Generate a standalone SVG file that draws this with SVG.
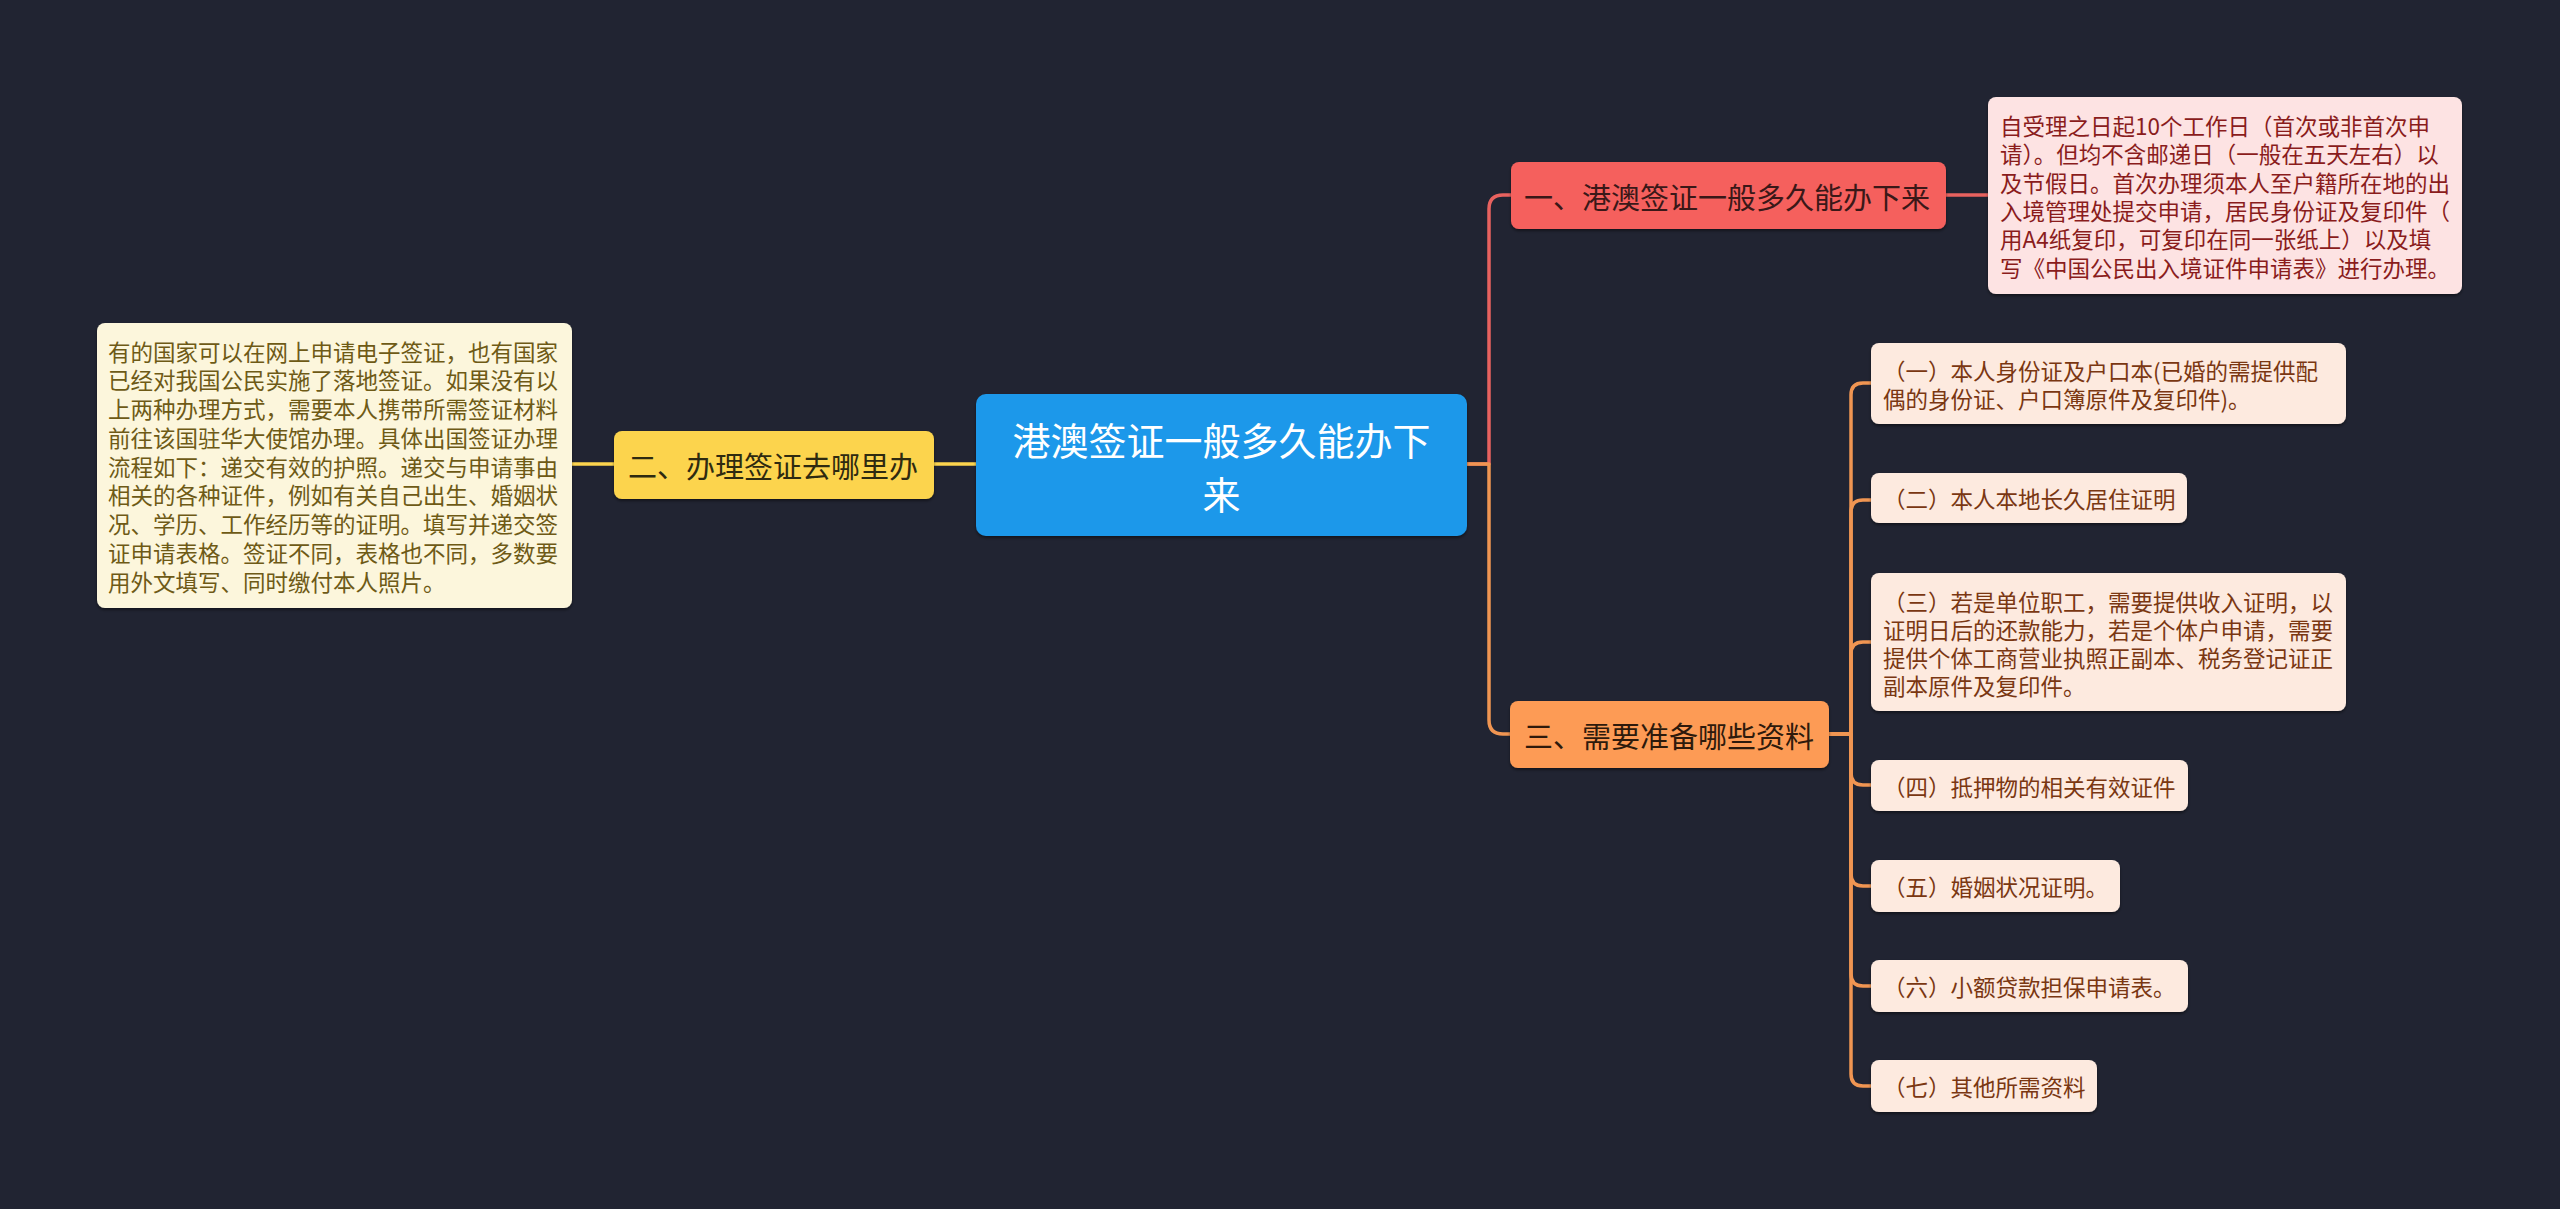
<svg xmlns="http://www.w3.org/2000/svg" width="2560" height="1209" viewBox="0 0 2560 1209">
<defs>
<style>
text{font-family:"Noto Sans CJK SC","Microsoft YaHei",sans-serif;}
.l1{font-size:29px;dominant-baseline:central;}
.leaf{font-size:22.5px;dominant-baseline:central;}
.conn{fill:none;stroke-width:3.5;stroke-linecap:round;stroke-linejoin:round;}
.red{stroke:#e8625f;}
.yel{stroke:#fcd44e;}
.org{stroke:#f09552;}
</style>
<filter id="sh" x="-5%" y="-10%" width="110%" height="130%">
<feDropShadow dx="0" dy="2" stdDeviation="1.5" flood-color="#000" flood-opacity="0.45"/>
</filter>
</defs>
<rect x="0" y="0" width="2560" height="1209" fill="#212432"/>

<g id="connectors">
<path class="conn red" d="M1467 464 H1489 V209 Q1489 195 1503 195 H1511"/>
<path class="conn org" d="M1467 464 H1489 V720 Q1489 734 1503 734 H1510"/>
<path class="conn red" d="M1946 195 H1988"/>
<path class="conn yel" d="M976 464 H934"/>
<path class="conn yel" d="M614 464 H572"/>
<path class="conn org" d="M1829 734 H1851 V395 Q1851 383 1863 383 H1872"/>
<path class="conn org" d="M1829 734 H1851 V512 Q1851 500 1863 500 H1872"/>
<path class="conn org" d="M1829 734 H1851 V654 Q1851 642 1863 642 H1872"/>
<path class="conn org" d="M1829 734 H1851 V773 Q1851 785 1863 785 H1872"/>
<path class="conn org" d="M1829 734 H1851 V874 Q1851 886 1863 886 H1872"/>
<path class="conn org" d="M1829 734 H1851 V974 Q1851 986 1863 986 H1872"/>
<path class="conn org" d="M1829 734 H1851 V1074 Q1851 1086 1863 1086 H1872"/>
</g>

<g id="center">
<rect x="976" y="394" width="491" height="142" rx="10" fill="#1d98ea" filter="url(#sh)"/>
<text x="1221.5" y="438" font-size="38" fill="#ffffff" text-anchor="middle" dominant-baseline="central">港澳签证一般多久能办下</text>
<text x="1221.5" y="492" font-size="38" fill="#ffffff" text-anchor="middle" dominant-baseline="central">来</text>
</g>

<g id="node1">
<rect x="1511" y="162" width="435" height="67" rx="8" fill="#f5605d" filter="url(#sh)"/>
<text class="l1" x="1524" y="195.5" fill="#3a1818">一、港澳签证一般多久能办下来</text>
</g>

<g id="node1-detail">
<rect x="1988" y="97" width="474" height="197" rx="8" fill="#fde3e3" filter="url(#sh)"/>
<text class="leaf" fill="#8a1c1c">
<tspan x="2000" y="125">自受理之日起10个工作日（首次或非首次申</tspan>
<tspan x="2000" y="153.3">请）。但均不含邮递日（一般在五天左右）以</tspan>
<tspan x="2000" y="181.6">及节假日。首次办理须本人至户籍所在地的出</tspan>
<tspan x="2000" y="209.9">入境管理处提交申请，居民身份证及复印件（</tspan>
<tspan x="2000" y="238.2">用A4纸复印，可复印在同一张纸上）以及填</tspan>
<tspan x="2000" y="266.5">写《中国公民出入境证件申请表》进行办理。</tspan>
</text>
</g>

<g id="node2">
<rect x="614" y="431" width="320" height="68" rx="8" fill="#fcd44e" filter="url(#sh)"/>
<text class="l1" x="628" y="465" fill="#2e2a10">二、办理签证去哪里办</text>
</g>

<g id="node2-detail">
<rect x="97" y="323" width="475" height="285" rx="8" fill="#fcf6dc" filter="url(#sh)"/>
<text class="leaf" fill="#6e5a16">
<tspan x="108" y="350.5">有的国家可以在网上申请电子签证，也有国家</tspan>
<tspan x="108" y="379.25">已经对我国公民实施了落地签证。如果没有以</tspan>
<tspan x="108" y="408">上两种办理方式，需要本人携带所需签证材料</tspan>
<tspan x="108" y="436.75">前往该国驻华大使馆办理。具体出国签证办理</tspan>
<tspan x="108" y="465.5">流程如下：递交有效的护照。递交与申请事由</tspan>
<tspan x="108" y="494.25">相关的各种证件，例如有关自己出生、婚姻状</tspan>
<tspan x="108" y="523">况、学历、工作经历等的证明。填写并递交签</tspan>
<tspan x="108" y="551.75">证申请表格。签证不同，表格也不同，多数要</tspan>
<tspan x="108" y="580.5">用外文填写、同时缴付本人照片。</tspan>
</text>
</g>

<g id="node3">
<rect x="1510" y="701" width="319" height="67" rx="8" fill="#fd9b55" filter="url(#sh)"/>
<text class="l1" x="1524" y="734.5" fill="#2e1a0c">三、需要准备哪些资料</text>
</g>

<g id="item1">
<rect x="1871" y="343" width="475" height="81" rx="8" fill="#fdeadf" filter="url(#sh)"/>
<text class="leaf" fill="#7a3712">
<tspan x="1883" y="369.5">（一）本人身份证及户口本(已婚的需提供配</tspan>
<tspan x="1883" y="397.5">偶的身份证、户口簿原件及复印件)。</tspan>
</text>
</g>

<g id="item2">
<rect x="1871" y="473" width="316" height="50" rx="8" fill="#fdeadf" filter="url(#sh)"/>
<text class="leaf" x="1883" y="498" fill="#7a3712">（二）本人本地长久居住证明</text>
</g>

<g id="item3">
<rect x="1871" y="573" width="475" height="138" rx="8" fill="#fdeadf" filter="url(#sh)"/>
<text class="leaf" fill="#7a3712">
<tspan x="1883" y="601">（三）若是单位职工，需要提供收入证明，以</tspan>
<tspan x="1883" y="629">证明日后的还款能力，若是个体户申请，需要</tspan>
<tspan x="1883" y="657">提供个体工商营业执照正副本、税务登记证正</tspan>
<tspan x="1883" y="685">副本原件及复印件。</tspan>
</text>
</g>

<g id="item4">
<rect x="1871" y="760" width="317" height="51" rx="8" fill="#fdeadf" filter="url(#sh)"/>
<text class="leaf" x="1883" y="785.5" fill="#7a3712">（四）抵押物的相关有效证件</text>
</g>

<g id="item5">
<rect x="1871" y="860" width="249" height="52" rx="8" fill="#fdeadf" filter="url(#sh)"/>
<text class="leaf" x="1883" y="886" fill="#7a3712">（五）婚姻状况证明。</text>
</g>

<g id="item6">
<rect x="1871" y="960" width="317" height="52" rx="8" fill="#fdeadf" filter="url(#sh)"/>
<text class="leaf" x="1883" y="986" fill="#7a3712">（六）小额贷款担保申请表。</text>
</g>

<g id="item7">
<rect x="1871" y="1060" width="226" height="52" rx="8" fill="#fdeadf" filter="url(#sh)"/>
<text class="leaf" x="1883" y="1086" fill="#7a3712">（七）其他所需资料</text>
</g>
</svg>
